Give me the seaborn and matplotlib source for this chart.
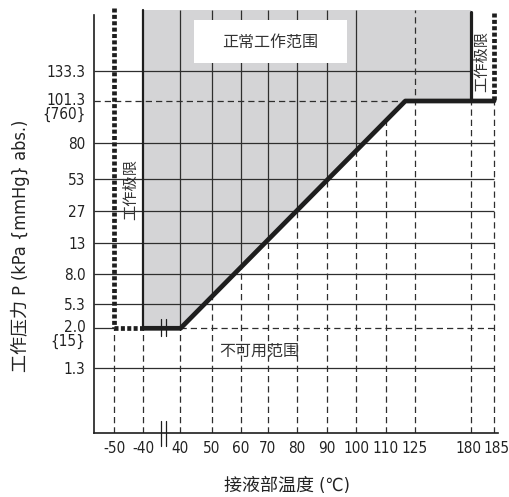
import numpy as np
import matplotlib
matplotlib.use("Agg")
import matplotlib.pyplot as plt
import seaborn as sns
from matplotlib import font_manager
from matplotlib.patches import Rectangle
from matplotlib.transforms import ScaledTranslation

# ---------------- data ----------------
TEMP_TICKS = [-50, -40, 40, 50, 60, 70, 80, 90, 100, 110, 125, 180, 185]
TEMP_LABELS = ["-50", "-40", "40", "50", "60", "70", "80", "90", "100", "110", "125", "180", "185"]
PRESS_TICKS = [133.3, 101.3, 80, 53, 27, 13, 8.0, 5.3, 2.0, 1.3]
PRESS_LABELS = ["133.3", "101.3", "80", "53", "27", "13", "8.0", "5.3", "2.0", "1.3"]
MMHG_AT = [101.3, 2.0]
MMHG_LABELS = ["{760}", "{15}"]

# lower boundary of the normal working range (temperature, pressure)
BOUND_T = [-40, 40, 120, 185]
BOUND_P = [2.0, 2.0, 101.3, 101.3]
RANGE_LOW_T, RANGE_HIGH_T = -40, 180      # normal range edges
LIMIT_LOW_T, LIMIT_HIGH_T = -50, 185      # working limits
P_ATM, P_MIN = 101.3, 2.0

TXT_NORMAL = "正常工作范围"
TXT_UNUSABLE = "不可用范围"
TXT_LIMIT = "工作极限"
YLABEL = "工作压力 P (kPa {mmHg} abs.)"
XLABEL = "接液部温度 (℃)"

# ---------------- schematic (non-uniform) scale nodes: layout ----------------
X_NODE_T = [-70, -50, -40, 40, 50, 60, 70, 80, 90, 100, 110, 125, 180, 185, 200]
X_NODE_PX = [54, 114.3, 143.5, 180.5, 212, 241, 268, 297, 327, 356, 386, 415, 471, 494, 563]
Y_NODE_P = [0, 1.3, 2.0, 5.3, 8.0, 13, 27, 53, 80, 101.3, 133.3, 200]
Y_NODE_PX = [433, 367.7, 328.3, 304, 274.3, 242.7, 210.7, 179, 142.7, 101, 71.3, 8]
YPX_NEG = [-v for v in Y_NODE_PX]

def fwd_x(t):
    return np.interp(t, X_NODE_T, X_NODE_PX)

def inv_x(v):
    return np.interp(v, X_NODE_PX, X_NODE_T)

def fwd_y(p):
    return np.interp(p, Y_NODE_P, YPX_NEG)

def inv_y(v):
    return np.interp(v, YPX_NEG, Y_NODE_P)

def data_y(py):
    return float(inv_y(-py))

AX_L, AX_R, AX_T, AX_B = 94, 498, 8, 433
W, H = 510, 497

def af(px, py):
    return (px - AX_L) / (AX_R - AX_L), (AX_B - py) / (AX_B - AX_T)

# ---------------- fonts ----------------
sns.set_theme(style="white")
fl = font_manager.fontManager.ttflist
names = {f.name for f in fl}
latin_stretch = "normal"
if any(f.name == "DejaVu Sans" and f.stretch in ("condensed", "semi-condensed") for f in fl):
    latin, latin_stretch = "DejaVu Sans", "condensed"
elif "Liberation Sans Narrow" in names:
    latin = "Liberation Sans Narrow"
else:
    latin = "Open Sans"
CJK = ["Noto Sans CJK SC", "DejaVu Sans"]
plt.rcParams["font.family"] = [latin, "Noto Sans CJK SC", "DejaVu Sans"]
plt.rcParams["font.stretch"] = latin_stretch
TICK_FS = 10 if latin == "Open Sans" else 11

INK = "#1e1e1e"
GRID = "#2e2e2e"
SHADE = "#d4d4d6"
TXT = "#333333"

fig = plt.figure(figsize=(W / 100, H / 100), dpi=100)
ax = fig.add_axes([AX_L / W, (H - AX_B) / H, (AX_R - AX_L) / W, (AX_B - AX_T) / H])
ax.set_xscale("function", functions=(fwd_x, inv_x))
ax.set_yscale("function", functions=(fwd_y, inv_y))
ax.set_xlim(float(inv_x(AX_L)), float(inv_x(AX_R)))
ax.set_ylim(0, 200)

P_TOP = data_y(10)

def cross_p(t):
    """pressure at which the (straight on screen) boundary crosses temperature t"""
    return float(inv_y(np.interp(fwd_x(t), fwd_x(BOUND_T), fwd_y(BOUND_P))))

# shaded normal working range
poly_t = [RANGE_LOW_T, RANGE_HIGH_T, RANGE_HIGH_T] + BOUND_T[2::-1]
poly_p = [P_TOP, P_TOP, P_ATM] + BOUND_P[2::-1]
ax.fill(poly_t, poly_p, color=SHADE, lw=0, zorder=0.5)

thin = dict(color=GRID, lw=0.9, zorder=1, solid_capstyle="butt")
dash = dict(color=GRID, lw=0.9, zorder=1, dashes=(5.0, 3.2), dash_capstyle="butt")
dots = dict(color=INK, lw=3.4, zorder=3, dashes=(0.85, 0.5), dash_capstyle="butt")

x0, x1 = ax.get_xlim()

# horizontal grid lines
for p in PRESS_TICKS:
    if p == 133.3:
        ax.plot([x0, RANGE_HIGH_T], [p, p], **thin)
    elif p == P_ATM:
        ax.plot([x0, BOUND_T[2]], [p, p], **dash)
    elif p == P_MIN:
        ax.plot([x0, LIMIT_LOW_T], [p, p], **thin)
        ax.plot([BOUND_T[1], LIMIT_HIGH_T], [p, p], **dash)
    else:
        ax.plot([x0, LIMIT_HIGH_T], [p, p], **thin)

# vertical grid lines
for t in TEMP_TICKS:
    if t in (LIMIT_LOW_T, RANGE_LOW_T):
        ax.plot([t, t], [0, P_MIN], **dash)
    elif t in (RANGE_HIGH_T, LIMIT_HIGH_T):
        ax.plot([t, t], [0, P_ATM], **dash)
    elif t == 125:
        ax.plot([t, t], [0, P_TOP], **dash)
    elif t == 110:
        ax.plot([t, t], [0, cross_p(t)], **dash)
    else:
        pc = cross_p(t)
        ax.plot([t, t], [0, pc], **dash)
        ax.plot([t, t], [pc, P_TOP], **thin)

# range edges (solid) and working limits (dotted)
ax.plot([RANGE_LOW_T, RANGE_LOW_T], [P_MIN, P_TOP], color=INK, lw=1.6, zorder=2)
ax.plot([RANGE_HIGH_T, RANGE_HIGH_T], [P_ATM, data_y(12)], color=INK, lw=2.3, zorder=2)
ax.plot([LIMIT_LOW_T, LIMIT_LOW_T], [data_y(8), P_MIN], **dots)
ax.plot([LIMIT_LOW_T, RANGE_LOW_T], [P_MIN, P_MIN], **dots)
ax.plot([LIMIT_HIGH_T, LIMIT_HIGH_T], [data_y(13), P_ATM], **dots)

# boundary curve
sns.lineplot(x=BOUND_T, y=BOUND_P, sort=False, estimator=None, ax=ax,
             color=INK, lw=3.4, zorder=4)

# white label box
bx0, by0 = af(194, 63)
bx1, by1 = af(347, 20)
ax.add_patch(Rectangle((bx0, by0), bx1 - bx0, by1 - by0, transform=ax.transAxes,
                       facecolor="white", edgecolor="none", zorder=2.5))
ax.text(*af(270.5, 42), TXT_NORMAL, transform=ax.transAxes, ha="center", va="center",
        fontsize=11.5, family=CJK, color=TXT, zorder=5)
ax.text(*af(259, 351), TXT_UNUSABLE, transform=ax.transAxes, ha="center", va="center",
        fontsize=11.5, family=CJK, color=TXT, zorder=5)
ax.text(*af(131, 189), TXT_LIMIT, transform=ax.transAxes, ha="center", va="center",
        rotation=90, fontsize=11, family=CJK, color=TXT, zorder=5)
ax.text(*af(482, 62), TXT_LIMIT, transform=ax.transAxes, ha="center", va="center",
        rotation=90, fontsize=11, family=CJK, color=TXT, zorder=5)

# axis break marks
for bx in (160.5, 165.5):
    for ya, yb in ((319, 336), (421, 446)):
        (xa, ya_f), (_, yb_f) = af(bx, ya), af(bx, yb)
        ax.plot([xa, xa], [ya_f, yb_f], transform=ax.transAxes, color=INK, lw=0.9,
                clip_on=False, zorder=6)

# axes
for s in ("top", "right"):
    ax.spines[s].set_visible(False)
for s in ("left", "bottom"):
    ax.spines[s].set_color(INK)
    ax.spines[s].set_linewidth(1.2)
ax.spines["left"].set_bounds(0, data_y(15))

mmhg = dict(zip(MMHG_AT, MMHG_LABELS))
ylabels = [f"{lab}\n{mmhg[p]}" if p in mmhg else lab for p, lab in zip(PRESS_TICKS, PRESS_LABELS)]
ax.set_xticks(TEMP_TICKS, TEMP_LABELS)
ax.set_yticks(PRESS_TICKS, ylabels)
ax.xaxis.set_minor_locator(matplotlib.ticker.NullLocator())
ax.yaxis.set_minor_locator(matplotlib.ticker.NullLocator())
ax.tick_params(axis="both", length=0, labelsize=TICK_FS, colors="#222222")
ax.tick_params(axis="x", pad=6)
ax.tick_params(axis="y", pad=6)

# nudge the two crowded right-hand temperature labels apart
nudge = {"180": -2.5 / 100, "185": 2.5 / 100}
for tk in ax.xaxis.get_major_ticks():
    txt = tk.label1.get_text()
    if txt in nudge:
        tk.label1.set_transform(tk.label1.get_transform()
                                + ScaledTranslation(nudge[txt], 0, fig.dpi_scale_trans))

# two-line pressure labels: first line sits on the grid line
for tk in ax.yaxis.get_major_ticks():
    lab = tk.label1
    if "\n" in lab.get_text():
        lab.set_verticalalignment("top")
        lab.set_multialignment("right")
        lab.set_linespacing(0.9)
        lab.set_transform(lab.get_transform()
                          + ScaledTranslation(0, 8.0 / 100, fig.dpi_scale_trans))

fig.text(20 / W, 1 - 246 / H, YLABEL, rotation=90, ha="center", va="center",
         fontsize=13, family=[latin] + CJK, color="#222222")
fig.text(287 / W, 1 - 486 / H, XLABEL, ha="center", va="center",
         fontsize=13, family=[latin] + CJK, color="#222222")

fig.savefig("out.png", dpi=100, facecolor="white")
